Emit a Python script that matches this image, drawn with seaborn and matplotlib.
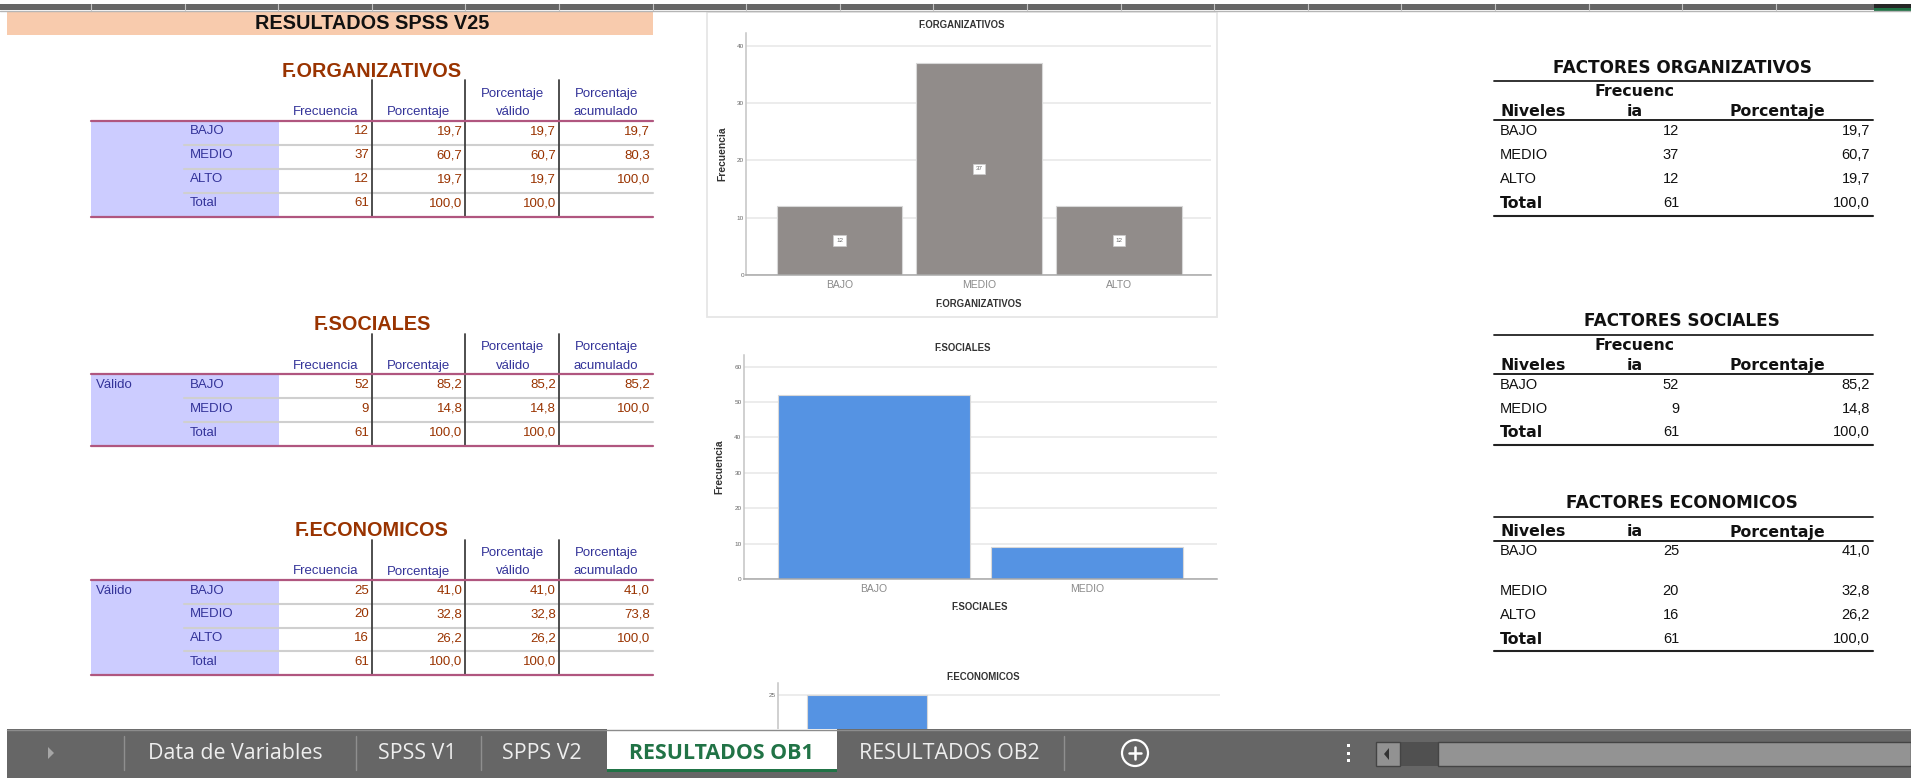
import matplotlib
matplotlib.use('Agg')
import matplotlib.pyplot as plt
import matplotlib.patches as patches
import seaborn as sns

W, H = 1911, 778

# Data read from the sheet
org_levels = ['BAJO', 'MEDIO', 'ALTO']
org_freq = [12, 37, 12]
org_pct = ['19,7', '60,7', '19,7']
org_cum = ['19,7', '80,3', '100,0']

soc_levels = ['BAJO', 'MEDIO']
soc_freq = [52, 9]
soc_pct = ['85,2', '14,8']
soc_cum = ['85,2', '100,0']

eco_levels = ['BAJO', 'MEDIO', 'ALTO']
eco_freq = [25, 20, 16]
eco_pct = ['41,0', '32,8', '26,2']
eco_cum = ['41,0', '73,8', '100,0']

total_freq = 61
total_pct = '100,0'
sheet_tabs = ['Data de Variables', 'SPSS V1', 'SPPS V2', 'RESULTADOS OB1', 'RESULTADOS OB2']

NAVY = '#333399'
BROWN = '#993300'
PINK = '#B0567F'
GRAY_BAR = '#918C8A'
BLUE_BAR = '#5593E3'
GREEN = '#217346'

sns.set_theme(style='white')
plt.rcParams['font.family'] = ['Liberation Sans', 'DejaVu Sans']

fig = plt.figure(figsize=(W / 100, H / 100), dpi=100, facecolor='white')


def px_axes(left, top, right, bottom, zorder=1):
    return fig.add_axes([left / W, 1 - bottom / H, (right - left) / W, (bottom - top) / H], zorder=zorder)


# Page layer, in pixel coordinates
page = px_axes(0, 0, W, H, zorder=0)
page.set_xlim(0, W)
page.set_ylim(H, 0)
page.axis('off')

# Tab bar layer sits above the charts
bar = px_axes(0, 0, W, H, zorder=5)
bar.set_xlim(0, W)
bar.set_ylim(H, 0)
bar.axis('off')
bar.patch.set_alpha(0)

# Column header strip at the top
page.add_patch(patches.Rectangle((0, 4), W, 6, color='#666666', lw=0))
page.plot([0, W], [10.5, 10.5], color='#b5b5b5', lw=1)
for k in range(19):
    x = 91 + 93.6 * k
    page.plot([x, x], [4, 10], color='#c4c4c4', lw=0.8)
page.add_patch(patches.Rectangle((1874, 4), W - 1874, 3.5, color='#262626', lw=0))
page.add_patch(patches.Rectangle((1874, 7.5), W - 1874, 3.5, color=GREEN, lw=0))

# Title band
page.add_patch(patches.Rectangle((7, 11.5), 646, 23.5, color='#F8CBAD', lw=0))
page.text(372, 23.5, 'RESULTADOS SPSS V25', ha='center', va='center', fontsize=14.3, fontweight='bold', color='#111111')


def spss_table(title, levels, freq, pct, cum, title_y, vtop, head_y, row_h, valido):
    rows = len(levels) + 1
    bottom = head_y + row_h * rows
    page.text(372, title_y, title, ha='center', va='center', fontsize=14.3, fontweight='bold', color=BROWN)
    page.add_patch(patches.Rectangle((90.5, head_y), 188, bottom - head_y, color='#CCCCFF', lw=0))
    for i in range(1, rows):
        y = head_y + row_h * i
        page.plot([184, 653], [y, y], color='#cfcfcf', lw=1.5)
    for x in [372, 465, 559]:
        page.plot([x, x], [vtop, bottom], color='#404040', lw=1.3)
    page.plot([90.5, 653], [head_y, head_y], color=PINK, lw=1.6)
    page.plot([90.5, 653], [bottom, bottom], color=PINK, lw=1.6)

    y1 = head_y - 8.5
    y0 = head_y - 27
    page.text(326, y1, 'Frecuencia', ha='center', va='center', fontsize=9.5, color=NAVY)
    page.text(419, y1, 'Porcentaje', ha='center', va='center', fontsize=9.5, color=NAVY)
    page.text(513, y0, 'Porcentaje', ha='center', va='center', fontsize=9.5, color=NAVY)
    page.text(513, y1, 'válido', ha='center', va='center', fontsize=9.5, color=NAVY)
    page.text(606, y0, 'Porcentaje', ha='center', va='center', fontsize=9.5, color=NAVY)
    page.text(606, y1, 'acumulado', ha='center', va='center', fontsize=9.5, color=NAVY)

    if valido:
        page.text(96, head_y + 10.5, 'Válido', va='center', fontsize=9.5, color=NAVY)
    names = levels + ['Total']
    f_col = [str(v) for v in freq] + [str(total_freq)]
    p_col = pct + [total_pct]
    c_col = cum + ['']
    for i in range(rows):
        y = head_y + 10.5 + row_h * i
        page.text(190, y, names[i], va='center', fontsize=9.5, color=NAVY)
        page.text(369, y, f_col[i], ha='right', va='center', fontsize=9.5, color=BROWN)
        page.text(462.5, y, p_col[i], ha='right', va='center', fontsize=9.5, color=BROWN)
        page.text(556, y, p_col[i], ha='right', va='center', fontsize=9.5, color=BROWN)
        page.text(650, y, c_col[i], ha='right', va='center', fontsize=9.5, color=BROWN)


spss_table('F.ORGANIZATIVOS', org_levels, org_freq, org_pct, org_cum, 71, 80, 120.5, 24, False)
spss_table('F.SOCIALES', soc_levels, soc_freq, soc_pct, soc_cum, 324.5, 334, 374, 24, True)
spss_table('F.ECONOMICOS', eco_levels, eco_freq, eco_pct, eco_cum, 530.5, 540, 580, 23.8, True)


def small_table(title, levels, freq, pct, title_y, top, head_y, row_ys, bottom, two_line):
    page.text(1682, title_y, title, ha='center', va='center', fontsize=12.2, fontweight='bold',
              family='DejaVu Sans', color='#111111')
    for y, lw in [(top, 1.3), (head_y, 1.4), (bottom, 1.5)]:
        page.plot([1494, 1873], [y, y], color='#222222', lw=lw)
    bold = dict(va='center', fontsize=11.3, fontweight='bold', family='DejaVu Sans', color='#111111')
    if two_line:
        page.text(1635, head_y - 29, 'Frecuenc', ha='center', **bold)
    page.text(1635, head_y - 9, 'ia', ha='center', **bold)
    page.text(1500, head_y - 9, 'Niveles', **bold)
    page.text(1777, head_y - 9, 'Porcentaje', ha='center', **bold)
    plain = dict(va='center', fontsize=10.5, color='#111111')
    for i, name in enumerate(levels):
        page.text(1500, row_ys[i], name, **plain)
        page.text(1679, row_ys[i], str(freq[i]), ha='right', **plain)
        page.text(1870, row_ys[i], pct[i], ha='right', **plain)
    page.text(1500, row_ys[-1], 'Total', **bold)
    page.text(1679, row_ys[-1], str(total_freq), ha='right', **plain)
    page.text(1870, row_ys[-1], total_pct, ha='right', **plain)


small_table('FACTORES ORGANIZATIVOS', org_levels, org_freq, org_pct, 68, 81, 120, [131, 155, 179, 203], 216, True)
small_table('FACTORES SOCIALES', soc_levels, soc_freq, soc_pct, 321, 335, 374, [385, 409, 432], 445, True)
small_table('FACTORES ECONOMICOS', eco_levels, eco_freq, eco_pct, 503, 517, 541, [551, 591, 615, 639], 651, False)


def spss_chart(box, levels, freq, color, xlim, ylim, ticks, title_xy, xlabel_xy, ylabel_xy, labels=False, cut=False):
    ax = px_axes(*box)
    sns.barplot(x=levels, y=freq, color=color, saturation=1, width=0.9, edgecolor='#d8d8d8', linewidth=0.8, ax=ax)
    ax.set_xlim(*xlim)
    ax.set_ylim(*ylim)
    ax.set_yticks(ticks)
    ax.yaxis.grid(True, color='#ebebeb', lw=1.3)
    ax.set_axisbelow(True)
    ax.patch.set_alpha(0)
    ax.tick_params(axis='x', labelsize=7.5, labelcolor='#8a8a8a', length=0, pad=3.5, labelbottom=not cut)
    ax.tick_params(axis='y', labelsize=4.6, labelcolor='#666666', length=0, pad=1.5)
    for side in ['top', 'right']:
        ax.spines[side].set_visible(False)
    ax.spines['left'].set_color('#c4c4c4')
    ax.spines['left'].set_linewidth(1.1)
    ax.spines['bottom'].set_color('#a8a8a8')
    ax.spines['bottom'].set_linewidth(1.1)
    if labels:
        ax.bar_label(ax.containers[0], label_type='center', fontsize=4.5, color='#666666',
                     bbox=dict(fc='white', ec='#cccccc', lw=0.5, pad=2))
    title = 'F.' + title_xy[2]
    page.text(title_xy[0], title_xy[1], title, ha='center', va='center', fontsize=6.9, fontweight='bold', color='#333333')
    if xlabel_xy:
        page.text(xlabel_xy[0], xlabel_xy[1], title, ha='center', va='center', fontsize=6.9, fontweight='bold', color='#333333')
    if ylabel_xy:
        page.text(ylabel_xy[0], ylabel_xy[1], 'Frecuencia', ha='center', va='center', rotation=90,
                  fontsize=7.4, fontweight='bold', color='#333333')
    return ax


# Chart frame of the first picture
page.add_patch(patches.Rectangle((707, 12), 510, 305, fc='white', ec='#e6e6e6', lw=1.3))

spss_chart((746, 33, 1211, 275), org_levels, org_freq, GRAY_BAR, (-0.67, 2.66), (0, 42.2), [0, 10, 20, 30, 40],
           (962, 25, 'ORGANIZATIVOS'), (979, 304), (722, 154), labels=True)
spss_chart((743.6, 355, 1217, 579), soc_levels, soc_freq, BLUE_BAR, (-0.61, 1.61), (0, 63.3), [0, 10, 20, 30, 40, 50, 60],
           (963, 348, 'SOCIALES'), (980, 607), (719, 467))
# Third picture runs on under the tab bar, only its top shows
spss_chart((778, 683, 1220, 907), eco_levels, eco_freq, BLUE_BAR, (-0.67, 2.65), (0, 26.4), [25],
           (983, 677, 'ECONOMICOS'), None, None, cut=True)

# Sheet tab bar
bar.add_patch(patches.Rectangle((7, 729), W - 7, 49, color='#666666', lw=0))
bar.plot([7, W], [729.5, 729.5], color='#8c8c8c', lw=1)
bar.add_patch(patches.Rectangle((607, 729), 230, 41, color='white', lw=0))
bar.add_patch(patches.Rectangle((607, 769), 230, 2.5, color=GREEN, lw=0))
bar.add_patch(patches.Polygon([(48, 747), (48, 759), (54, 753)], color='#a6a6a6', lw=0))
for x in [123.5, 356, 481, 1064]:
    bar.plot([x, x], [736, 770], color='#8f8f8f', lw=1)
tab_x = [235, 417.5, 542, 721, 949]
for i, name in enumerate(sheet_tabs):
    active = i == 3
    bar.text(tab_x[i], 753.5, name, ha='center', va='center', fontsize=15.4, family='Open Sans',
             fontweight='bold' if active else 'normal', color=GREEN if active else '#eeeeee')

# Add sheet button, dots and scroll bar
bar.add_patch(patches.Circle((1135, 753), 13, fc='none', ec='white', lw=1.6))
bar.plot([1135, 1135], [747, 759], color='white', lw=1.8)
bar.plot([1129, 1141], [753, 753], color='white', lw=1.8)
for y in [745, 753, 760]:
    bar.add_patch(patches.Rectangle((1346.5, y - 1.5), 3, 3, color='white', lw=0))
bar.add_patch(patches.Rectangle((1376, 742), 62, 24, color='#505050', lw=0))
bar.add_patch(patches.Rectangle((1376, 742), 24, 24, fc='#929292', ec='#444444', lw=1))
bar.add_patch(patches.Polygon([(1384, 754), (1389, 748), (1389, 760)], color='#333333', lw=0))
bar.add_patch(patches.Rectangle((1438, 742), W - 1438, 24, fc='#939393', ec='#444444', lw=1))

fig.savefig('out.png', dpi=100, facecolor='white')
